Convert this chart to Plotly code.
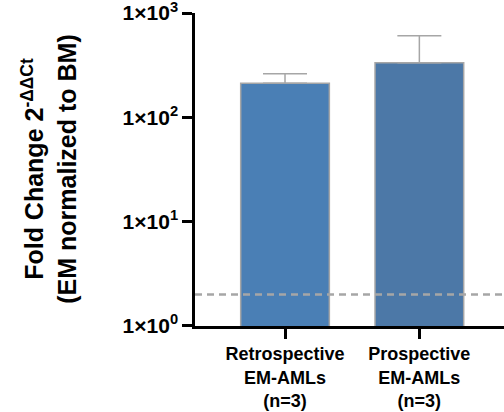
import plotly.graph_objects as go

categories = ["Retrospective<br>EM-AMLs<br>(n=3)", "Prospective<br>EM-AMLs<br>(n=3)"]
fold_change = [212, 334]
error_plus = [50, 273]
bar_colors = ["#4A7FB5", "#4C78A7"]
threshold = 2
y_tickvals = [1, 10, 100, 1000]
y_ticktext = ["1×10<sup>0</sup>", "1×10<sup>1</sup>", "1×10<sup>2</sup>", "1×10<sup>3</sup>"]

FONT = "Liberation Sans, Arial, sans-serif"

fig = go.Figure()
fig.add_trace(go.Bar(
    x=[0, 1], y=fold_change,
    width=0.66,
    marker=dict(color=bar_colors, line=dict(color="#A6A6A6", width=1.5)),
    error_y=dict(type="data", symmetric=False, array=error_plus, arrayminus=[0, 0],
                 color="#A6A6A6", thickness=1.5, width=22),
))

fig.add_shape(type="line", xref="paper", x0=0, x1=1, yref="y", y0=threshold, y1=threshold,
              line=dict(color="#A6A6A6", width=2.5, dash="7px,5px"), layer="above")

fig.update_layout(
    width=504, height=412,
    margin=dict(l=195, r=0, t=13, b=86),
    paper_bgcolor="white", plot_bgcolor="white",
    showlegend=False,
    font=dict(family=FONT, color="black"),
    xaxis=dict(
        range=[-0.67, 1.63],
        tickmode="array", tickvals=[0, 1], ticktext=["<b>" + c.replace("<br>", "</b><br><b>") + "</b>" for c in categories],
        ticks="outside", ticklen=10, tickwidth=2.5, tickcolor="black",
        showline=True, linecolor="black", linewidth=2.5,
        showgrid=False, zeroline=False,
        tickfont=dict(family=FONT, size=18, color="black"),
    ),
    yaxis=dict(
        type="log", range=[-0.0005, 3.0005],
        tickmode="array", tickvals=y_tickvals, ticktext=["<b>" + t + "</b>" for t in y_ticktext],
        ticks="outside", ticklen=10, tickwidth=2.5, tickcolor="black",
        showline=True, linecolor="black", linewidth=2.5,
        showgrid=False, zeroline=False, ticklabeloverflow="allow",
        tickfont=dict(family=FONT, size=21, color="black", weight="bold"),
    ),
)

fig.add_annotation(
    xref="paper", yref="paper", x=-0.475, y=0.5,
    text="<b>Fold Change 2<sup>-ΔΔCt</sup></b><br><b>(EM normalized to BM)</b>",
    textangle=-90, showarrow=False,
    font=dict(family=FONT, size=25, color="black"),
    xanchor="center", yanchor="middle",
)

fig.write_html("out.html")
